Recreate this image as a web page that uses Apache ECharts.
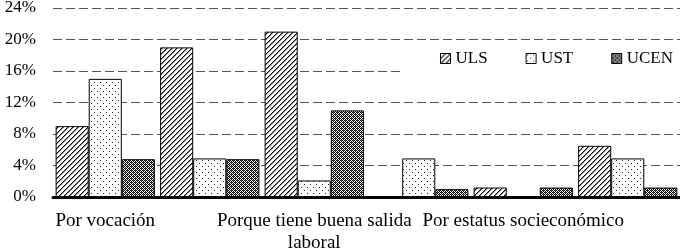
<!DOCTYPE html>
<html>
<head>
<meta charset="utf-8">
<script src="https://cdn.jsdelivr.net/npm/echarts@6/dist/echarts.min.js"></script>
<style>
html,body{margin:0;padding:0;background:#fff;}
#chart{width:680px;height:250px;}
</style>
</head>
<body>
<div id="chart"></div>
<script>
// ---- data ----
const categories = ['Por vocación', '', 'Porque tiene buena salida\nlaboral', '', 'Por estatus socieconómico', ''];
const seriesNames = ['ULS', 'UST', 'UCEN'];
const ulsValues = [9.0, 19.0, 21.0, 0, 1.2, 6.5];
const ustValues = [15.0, 4.9, 2.1, 4.9, 0, 4.9];
const ucenValues = [4.8, 4.8, 11.0, 1.0, 1.2, 1.2];
const yTicks = { min: 0, max: 24, interval: 4 };

// ---- patterns ----
function makeTile(size, draw) {
  const c = document.createElement('canvas');
  c.width = size; c.height = size;
  const ctx = c.getContext('2d');
  ctx.fillStyle = '#fff';
  ctx.fillRect(0, 0, size, size);
  draw(ctx, size);
  return c;
}
const hatch = makeTile(5, (ctx, s) => {
  for (let x = 0; x < s; x++) {
    ctx.fillStyle = '#000';
    ctx.fillRect(x, s - 1 - x, 1, 1);
    ctx.fillStyle = '#8a8a8a';
    ctx.fillRect((x + 1) % s, s - 1 - x, 1, 1);
  }
});
const dots = makeTile(6, (ctx) => {
  ctx.fillStyle = '#222';
  ctx.fillRect(1, 1, 1, 1);
  ctx.fillRect(4, 4, 1, 1);
});
const checker = makeTile(4, (ctx, s) => {
  ctx.fillStyle = '#000';
  for (let y = 0; y < s; y++) for (let x = 0; x < s; x++) {
    if ((x + y) % 2 === 0) ctx.fillRect(x, y, 1, 1);
  }
  ctx.fillStyle = '#555';
  ctx.fillRect(1, 0, 1, 1);
  ctx.fillRect(3, 2, 1, 1);
});
const fills = [hatch, dots, checker];
const valuesList = [ulsValues, ustValues, ucenValues];

const chart = echarts.init(document.getElementById('chart'), null, { renderer: 'canvas' });
const font = 'Liberation Serif';
chart.setOption({
  animation: false,
  backgroundColor: '#fff',
  textStyle: { fontFamily: font },
  grid: { left: 53, right: 0, top: 8, bottom: 53, containLabel: false, outerBoundsMode: 'none' },
  legend: {
    data: seriesNames,
    right: 0,
    top: 44,
    padding: [6, 7, 8, 40],
    backgroundColor: '#fff',
    itemWidth: 10,
    itemHeight: 10,
    itemGap: 38,
    icon: 'rect',
    textStyle: { fontFamily: font, fontSize: 17, color: '#000' },
    itemStyle: { borderColor: '#000', borderWidth: 1 }
  },
  xAxis: {
    type: 'category',
    data: categories,
    axisLine: { show: true, lineStyle: { color: '#000', width: 3 } },
    axisTick: { show: false },
    axisLabel: {
      interval: 0,
      margin: 13,
      fontFamily: font,
      fontSize: 19,
      lineHeight: 22,
      color: '#000'
    },
    splitLine: { show: false }
  },
  yAxis: {
    type: 'value',
    min: yTicks.min,
    max: yTicks.max,
    interval: yTicks.interval,
    axisLine: { show: false },
    axisTick: { show: false },
    axisLabel: {
      margin: 17,
      fontFamily: font,
      fontSize: 17,
      color: '#000',
      formatter: '{value}%'
    },
    splitLine: { lineStyle: { color: '#555', width: 1, type: [9, 4] } }
  },
  series: seriesNames.map((name, i) => ({
    name: name,
    type: 'bar',
    data: valuesList[i],
    barGap: '0%',
    barCategoryGap: '5%',
    itemStyle: {
      color: { image: fills[i], repeat: 'repeat' },
      borderColor: '#000',
      borderWidth: 1
    }
  }))
});
</script>
</body>
</html>
